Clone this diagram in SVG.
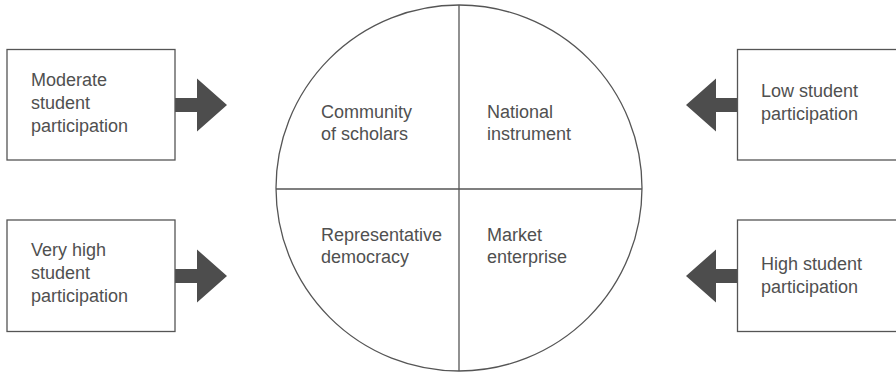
<svg xmlns="http://www.w3.org/2000/svg" xmlns:xlink="http://www.w3.org/1999/xlink" width="896" height="372" viewBox="0 0 896 372">
<style>
.box{fill:#fff;stroke:#555;stroke-width:1.3}
.ring{fill:none;stroke:#555;stroke-width:1.3}
.arrow{fill:#4d4d4d;stroke:none}
text{font-family:"Liberation Sans",Arial,sans-serif;font-size:18px;fill:#505050}
</style>
<defs>
<polygon id="arr" class="arrow" points="0,-7 22,-7 22,-26.5 52,0 22,26.5 22,7 0,7"/>
</defs>
<rect width="896" height="372" fill="#fff"/>
<g id="connectors">
<use xlink:href="#arr" href="#arr" transform="translate(175,105)"/>
<use xlink:href="#arr" href="#arr" transform="translate(175,276)"/>
<use xlink:href="#arr" href="#arr" transform="translate(738,105) scale(-1,1)"/>
<use xlink:href="#arr" href="#arr" transform="translate(738,276) scale(-1,1)"/>
</g>
<g id="box-moderate">
<rect class="box" x="7" y="49.5" width="168" height="110.5"/>
<text x="31" y="86">Moderate</text>
<text x="31" y="109">student</text>
<text x="31" y="132">participation</text>
</g>
<g id="box-veryhigh">
<rect class="box" x="7" y="220" width="168" height="111.5"/>
<text x="31" y="256">Very high</text>
<text x="31" y="279">student</text>
<text x="31" y="302">participation</text>
</g>
<g id="box-low">
<rect class="box" x="737.5" y="49.5" width="170" height="110.5"/>
<text x="761" y="97">Low student</text>
<text x="761" y="120">participation</text>
</g>
<g id="box-high">
<rect class="box" x="737.5" y="220" width="170" height="111.5"/>
<text x="761" y="270">High student</text>
<text x="761" y="293">participation</text>
</g>
<g id="circle">
<circle class="ring" cx="459" cy="188" r="183"/>
<line class="ring" x1="459" y1="5" x2="459" y2="371"/>
<line class="ring" x1="276" y1="189" x2="642" y2="189"/>
</g>
<g id="q-community">
<text x="321" y="118">Community</text>
<text x="321" y="140">of scholars</text>
</g>
<g id="q-national">
<text x="487" y="118">National</text>
<text x="487" y="140">instrument</text>
</g>
<g id="q-representative">
<text x="321" y="241">Representative</text>
<text x="321" y="263">democracy</text>
</g>
<g id="q-market">
<text x="487" y="241">Market</text>
<text x="487" y="263">enterprise</text>
</g>
</svg>
